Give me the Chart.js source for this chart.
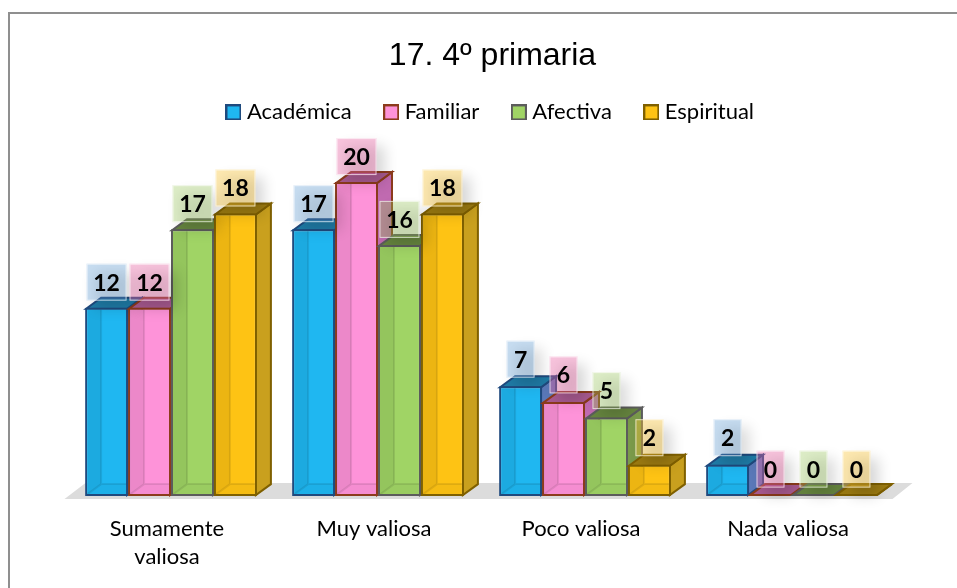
<!DOCTYPE html>
<html><head><meta charset="utf-8">
<style>html,body{margin:0;padding:0;background:#fff}#wrap{position:absolute;left:0;top:0;width:957px;height:588px}
#frame{position:absolute;left:8px;top:12px;width:949px;height:576px;border-left:2px solid #8f8f8f;border-top:2px solid #8f8f8f;box-sizing:border-box}</style>
<script src="https://cdn.jsdelivr.net/npm/chart.js@4"></script>
</head><body>
<div id="wrap"><div id="frame"></div><canvas id="c" width="957" height="588" style="position:absolute;left:0;top:0"></canvas></div>
<script>
const titleText = '17. 4º primaria';
const categories = [['Sumamente','valiosa'],'Muy valiosa','Poco valiosa','Nada valiosa'];
const seriesNames = ['Académica','Familiar','Afectiva','Espiritual'];
const academica = [12,17,7,2];
const familiar = [12,20,6,0];
const afectiva = [17,16,5,0];
const espiritual = [18,18,2,0];
const fronts = ['#1fb7f1','#fe93d9','#a0d465','#fec314'];
const edges = ['#1f4a7e','#8c3b1c','#5c5c5c','#7f6000'];
const tops = ['#1f7ba6','#a85a90','#66853f','#9c7b12'];
const sides = ['#5a78b8','#c06ab0','#7a9a4a','#c9a01e'];
const labelFills = ['rgba(91,155,213,.35)','rgba(235,105,167,.4)','rgba(155,201,92,.35)','rgba(250,197,57,.4)'];
const seriesValues = [academica,familiar,afectiva,espiritual];
const DX=15, DY=11;

function swatch(i){
  const s=document.createElement('canvas'); s.width=16; s.height=16;
  const g=s.getContext('2d'); g.fillStyle=fronts[i]; g.fillRect(1,1,14,14);
  g.strokeStyle=edges[i]; g.lineWidth=2; g.strokeRect(1,1,14,14); return s;
}
function poly(ctx,pts,fill,stroke){
  ctx.beginPath(); pts.forEach((p,i)=>i?ctx.lineTo(p[0],p[1]):ctx.moveTo(p[0],p[1])); ctx.closePath();
  if(fill){ctx.fillStyle=fill;ctx.fill();}
  if(stroke){ctx.strokeStyle=stroke;ctx.lineWidth=2;ctx.stroke();}
}
const box3d={
  id:'box3d',
  beforeDatasetDraw(){return false;},
  beforeDatasetsDraw(chart){
    const ctx=chart.ctx, a=chart.chartArea;
    poly(ctx,[[a.left-3,a.bottom+3],[a.left+18,a.bottom-13],[a.right+17,a.bottom-13],[a.right-3,a.bottom+3]],'#dcdcdc');
    seriesValues.forEach((vals,i)=>{
      const meta=chart.getDatasetMeta(i);
      meta.data.forEach(el=>{
        const p=el.getProps(['x','y','base','width'],true);
        const l=p.x-p.width/2+1, r=p.x+p.width/2-1, t=p.y+1, b=p.base-1;
        poly(ctx,[[r,Math.min(t,b)],[r+DX,Math.min(t,b)-DY],[r+DX,b-DY],[r,b]],sides[i],edges[i]);
        poly(ctx,[[l,Math.min(t,b)],[l+DX,Math.min(t,b)-DY],[r+DX,Math.min(t,b)-DY],[r,Math.min(t,b)]],tops[i],edges[i]);
        el.draw(ctx);
        // see-through interior of the box: left wall, floor and back edges
        if(p.base-p.y>14){
          ctx.save();
          ctx.beginPath(); ctx.rect(l+1,t+1,r-l-2,b-t-2); ctx.clip();
          poly(ctx,[[l,t],[l+DX,t],[l+DX,b-DY],[l,b]],'rgba(0,0,0,.07)');
          poly(ctx,[[l,b],[l+DX,b-DY],[r,b-DY],[r,b]],'rgba(0,0,0,.035)');
          ctx.strokeStyle='rgba(0,0,0,.09)'; ctx.lineWidth=2;
          ctx.beginPath(); ctx.moveTo(l+DX,t); ctx.lineTo(l+DX,b-DY); ctx.lineTo(r,b-DY); ctx.moveTo(l+DX,b-DY); ctx.lineTo(l,b); ctx.stroke();
          ctx.restore();
        }
      });
    });
  },
  afterDatasetsDraw(chart){
    const ctx=chart.ctx;
    ctx.font='bold 23px Lato'; ctx.textAlign='center'; ctx.textBaseline='middle';
    seriesValues.forEach((vals,i)=>{
      const meta=chart.getDatasetMeta(i);
      meta.data.forEach((el,j)=>{
        const txt=String(vals[j]);
        const two=txt.length>1;
        const w=two?40:28, h=37, cx=el.x, cy=el.y-(two?25.5:27);
        ctx.save();
        ctx.shadowColor='rgba(0,0,0,.4)'; ctx.shadowBlur=14; ctx.shadowOffsetX=8; ctx.shadowOffsetY=8;
        ctx.fillStyle=labelFills[i]; ctx.fillRect(cx-w/2,cy-h/2,w,h);
        ctx.restore();
        ctx.strokeStyle='rgba(255,255,255,.65)'; ctx.lineWidth=1; ctx.strokeRect(cx-w/2+.5,cy-h/2+.5,w-1,h-1);
        ctx.fillStyle='#000'; ctx.fillText(txt,cx,cy+1);
      });
    });
  }
};
new Chart(document.getElementById('c'),{
  type:'bar',
  data:{labels:categories,datasets:seriesNames.map((n,i)=>({label:n,data:seriesValues[i],backgroundColor:fronts[i],borderColor:edges[i],borderWidth:2,borderSkipped:false,pointStyle:swatch(i),categoryPercentage:.83,barPercentage:1}))},
  options:{
    responsive:false,animation:false,
    layout:{padding:{left:67.5,right:39.5,top:37,bottom:6}},
    plugins:{
      title:{display:true,text:titleText,color:'#000',font:{family:'Liberation Sans',size:32,weight:'normal'},padding:{top:0,bottom:-11}},
      legend:{position:'top',labels:{usePointStyle:true,boxWidth:5,boxHeight:5,padding:37,color:'#000',font:{family:'Lato',size:22}}},
      tooltip:{enabled:false}
    },
    scales:{
      x:{grid:{display:false},border:{display:false},ticks:{color:'#000',padding:11,labelOffset:-4,maxRotation:0,font:{family:'Lato',size:22,lineHeight:1.27}}},
      y:{display:false,min:0,max:23.1},
      yRight:{position:'right',display:true,grid:{display:false},border:{display:false},ticks:{display:false},afterFit(s){s.width=22;}}
    }
  },
  plugins:[box3d]
});
</script>
</body></html>
